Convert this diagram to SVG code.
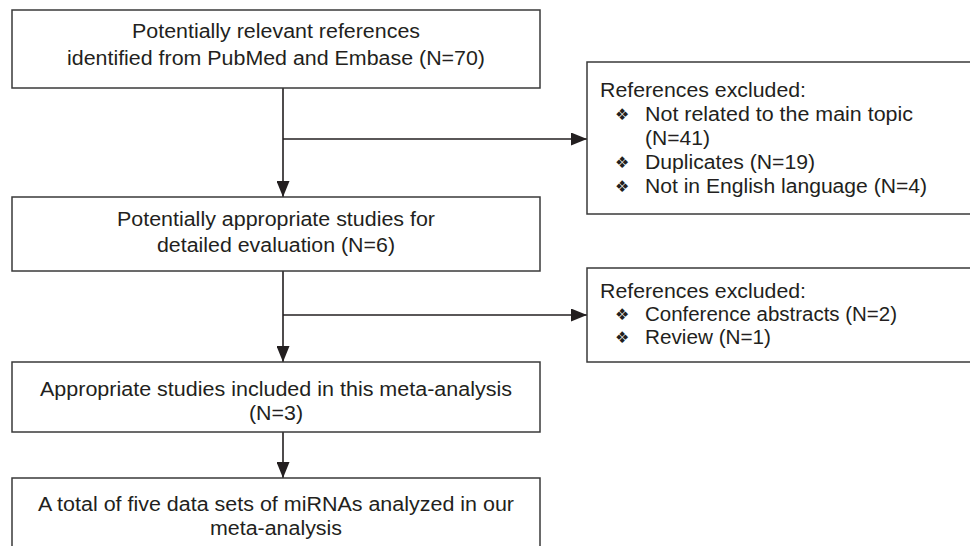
<svg xmlns="http://www.w3.org/2000/svg" width="970" height="546" viewBox="0 0 970 546">
<defs>
<marker id="arr" markerUnits="userSpaceOnUse" markerWidth="16" markerHeight="13" refX="16" refY="6.5" orient="auto">
<path d="M0,0 L16,6.5 L0,13 Z" fill="#231f20"/>
</marker>
<style>
.box{fill:#ffffff;stroke:#3a3a3a;stroke-width:1.5}
.t{font-family:"Liberation Sans",Arial,Helvetica,sans-serif;font-size:19.5px;fill:#231f20}
.c{text-anchor:middle}
.b{font-family:"DejaVu Sans",sans-serif;font-size:16px;fill:#231f20}
.ln{fill:none;stroke:#231f20;stroke-width:1.6}
</style>
</defs>
<rect width="970" height="546" fill="#ffffff"/>
<g id="connectors">
<path class="ln" d="M283,88 V197" marker-end="url(#arr)"/>
<path class="ln" d="M283,139 H587" marker-end="url(#arr)"/>
<path class="ln" d="M283,271 V362" marker-end="url(#arr)"/>
<path class="ln" d="M283,315 H587" marker-end="url(#arr)"/>
<path class="ln" d="M283,432 V478" marker-end="url(#arr)"/>
</g>
<g id="node1">
<rect class="box" x="12" y="10" width="528" height="78"/>
<text class="t c" x="276" y="38" textLength="288" lengthAdjust="spacingAndGlyphs">Potentially relevant references</text>
<text class="t c" x="276" y="65" textLength="418" lengthAdjust="spacingAndGlyphs">identified from PubMed and Embase (N=70)</text>
</g>
<g id="node2">
<rect class="box" x="12" y="197" width="528" height="74"/>
<text class="t c" x="276" y="226" textLength="318" lengthAdjust="spacingAndGlyphs">Potentially appropriate studies for</text>
<text class="t c" x="276" y="252" textLength="238" lengthAdjust="spacingAndGlyphs">detailed evaluation (N=6)</text>
</g>
<g id="node3">
<rect class="box" x="12" y="362" width="528" height="70"/>
<text class="t c" x="276" y="396" textLength="472" lengthAdjust="spacingAndGlyphs">Appropriate studies included in this meta-analysis</text>
<text class="t c" x="276" y="420" textLength="54" lengthAdjust="spacingAndGlyphs">(N=3)</text>
</g>
<g id="node4">
<rect class="box" x="12" y="478" width="528" height="90"/>
<text class="t c" x="276" y="511" textLength="476" lengthAdjust="spacingAndGlyphs">A total of five data sets of miRNAs analyzed in our</text>
<text class="t c" x="276" y="535" textLength="132" lengthAdjust="spacingAndGlyphs">meta-analysis</text>
</g>
<g id="excl1">
<rect class="box" x="587" y="62" width="400" height="152"/>
<text class="t" x="600" y="97" textLength="206" lengthAdjust="spacingAndGlyphs">References excluded:</text>
<text class="b" x="615" y="120">❖</text>
<text class="t" x="645" y="121" textLength="268" lengthAdjust="spacingAndGlyphs">Not related to the main topic</text>
<text class="t" x="645" y="145" textLength="65" lengthAdjust="spacingAndGlyphs">(N=41)</text>
<text class="b" x="615" y="168">❖</text>
<text class="t" x="645" y="169" textLength="170" lengthAdjust="spacingAndGlyphs">Duplicates (N=19)</text>
<text class="b" x="615" y="192">❖</text>
<text class="t" x="645" y="193" textLength="282" lengthAdjust="spacingAndGlyphs">Not in English language (N=4)</text>
</g>
<g id="excl2">
<rect class="box" x="587" y="268" width="400" height="94"/>
<text class="t" x="600" y="298" textLength="206" lengthAdjust="spacingAndGlyphs">References excluded:</text>
<text class="b" x="615" y="320">❖</text>
<text class="t" x="645" y="321" textLength="252" lengthAdjust="spacingAndGlyphs">Conference abstracts (N=2)</text>
<text class="b" x="615" y="343">❖</text>
<text class="t" x="645" y="344" textLength="126" lengthAdjust="spacingAndGlyphs">Review (N=1)</text>
</g>
</svg>
